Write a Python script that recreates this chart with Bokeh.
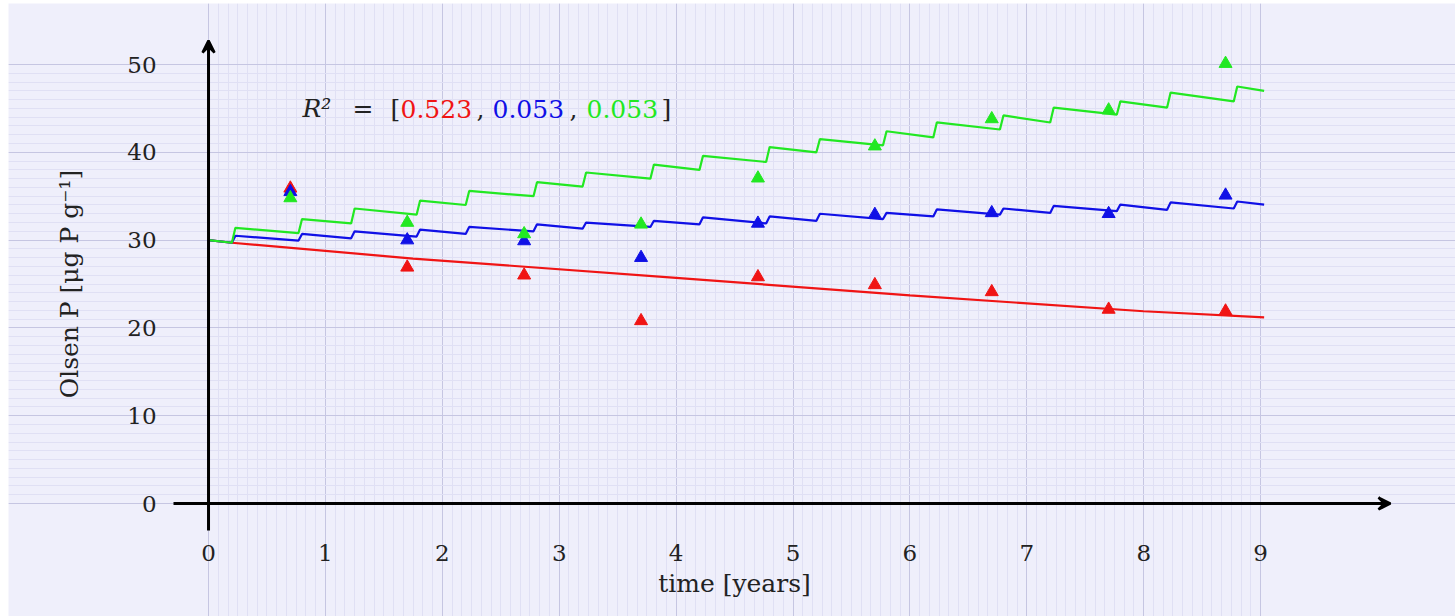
from bokeh.plotting import figure
from bokeh.models import (Range1d, SingleIntervalTicker, Arrow, VeeHead, Label)
from bokeh.embed import file_html
from bokeh.resources import INLINE

# ---------------- data ----------------
obs_t = [0.7, 1.7, 2.7, 3.7, 4.7, 5.7, 6.7, 7.7, 8.7]
red_obs = [35.9, 26.9, 26.0, 20.8, 25.8, 24.9, 24.1, 22.1, 21.9]
blue_obs = [35.5, 30.0, 29.9, 28.0, 31.9, 32.9, 33.1, 33.0, 35.1]
green_obs = [34.8, 32.0, 30.7, 31.8, 37.05, 40.7, 43.8, 44.8, 50.1]

# model: break points (fertiliser applications) and value at start / end of each segment
step_t = [0, 0.2, 0.77, 1.22, 1.78, 2.2, 2.78, 3.2, 3.78, 4.2, 4.77, 5.2, 5.77,
          6.2, 6.77, 7.2, 7.77, 8.2, 8.77, 9.03]
green_start = [30.0, 31.4, 32.4, 33.6, 34.5, 35.6, 36.6, 37.7, 38.6, 39.6, 40.6,
               41.5, 42.4, 43.4, 44.2, 45.1, 45.8, 46.8, 47.5]
green_end = [29.7, 30.8, 31.9, 32.9, 34.0, 35.0, 36.1, 37.0, 38.0, 38.9, 40.0,
             40.8, 41.7, 42.6, 43.4, 44.3, 45.1, 45.8, 47.0]
blue_start = [30.0, 30.5, 30.7, 31.0, 31.2, 31.5, 31.8, 32.0, 32.2, 32.6, 32.7,
              33.0, 33.1, 33.5, 33.6, 33.9, 34.05, 34.3, 34.4]
blue_end = [29.7, 29.95, 30.2, 30.4, 30.7, 31.0, 31.3, 31.5, 31.8, 31.9, 32.2,
            32.4, 32.7, 32.9, 33.1, 33.3, 33.45, 33.6, 34.05]
red_t = [0, 0.2, 1.75, 4.0, 6.0, 8.0, 9.03]
red_model = [30.0, 29.7, 27.9, 25.7, 23.7, 21.9, 21.2]

r2_values = [0.523, 0.053, 0.053]

x_label = "time [years]"
y_label = "Olsen P [μg P g⁻¹]"

# ---------------- styles ----------------
RED, BLUE, GREEN = "#f01414", "#1010e6", "#22e822"
INK = "#222222"
SERIF = "DejaVu Serif"
JUMP = 0.03  # slant of each jump in the drawn step line

W, H = 1455, 616
LEFT, TOP = 8, 3
X0, X1 = -1.711, 10.667
Y0, Y1 = -12.87, 56.95


def px2x(px):
    return X0 + (px - LEFT) / (W - LEFT) * (X1 - X0)


def py2y(py):
    return Y1 - (py - TOP) / (H - TOP) * (Y1 - Y0)


def step_path(t, starts, ends):
    xs, ys = [], []
    for i in range(len(starts)):
        xs += [t[i] + (JUMP if i else 0), t[i + 1]]
        ys += [starts[i], ends[i]]
    return xs, ys


p = figure(width=W, height=H, x_range=Range1d(X0, X1), y_range=Range1d(Y0, Y1),
           output_backend="svg", toolbar_location=None,
           min_border_left=LEFT, min_border_top=TOP, min_border_right=0, min_border_bottom=0)
p.background_fill_color = "#efeffb"
p.border_fill_color = "white"
p.outline_line_color = None

xt = SingleIntervalTicker(interval=1, num_minor_ticks=12)
yt = SingleIntervalTicker(interval=10, num_minor_ticks=10)
p.xaxis.ticker = xt
p.yaxis.ticker = yt
p.xgrid.ticker = xt
p.ygrid.ticker = yt
for g in (p.xgrid, p.ygrid):
    g.grid_line_color = "#c6c6e2"
    g.grid_line_width = 1
    g.minor_grid_line_color = "#e0e0f4"
    g.minor_grid_line_width = 1

for ax in (p.xaxis, p.yaxis):
    ax.fixed_location = 0
    ax.axis_line_color = None
    ax.major_tick_line_color = None
    ax.minor_tick_line_color = None
    ax.major_label_text_font = SERIF
    ax.major_label_text_font_size = "23px"
    ax.major_label_text_color = INK
    ax.axis_label_text_font = SERIF
    ax.axis_label_text_font_style = "normal"
    ax.axis_label_text_font_size = "25px"
    ax.axis_label_text_color = INK
p.xaxis.bounds = (0, 9)
p.yaxis.bounds = (0, 50)
p.xaxis.major_label_standoff = 35
p.yaxis.major_label_standoff = 46
p.xaxis.axis_label = x_label
p.yaxis.axis_label = y_label
p.xaxis.axis_label_standoff = 5
p.yaxis.axis_label_standoff = 40

# axes with arrow heads
p.add_layout(Arrow(end=VeeHead(size=12, line_width=2.5, line_color="black"),
                   x_start=px2x(173), y_start=0, x_end=px2x(1390), y_end=0,
                   line_width=3, line_color="black"))
p.add_layout(Arrow(end=VeeHead(size=12, line_width=2.5, line_color="black"),
                   x_start=0, y_start=py2y(530), x_end=0, y_end=py2y(40),
                   line_width=3, line_color="black"))

# model lines
p.line(red_t, red_model, line_color=RED, line_width=2.2)
bx, by = step_path(step_t, blue_start, blue_end)
p.line(bx, by, line_color=BLUE, line_width=2.2)
gx, gy = step_path(step_t, green_start, green_end)
p.line(gx, gy, line_color=GREEN, line_width=2.2)

# observations
for obs, col in ((red_obs, RED), (blue_obs, BLUE), (green_obs, GREEN)):
    p.scatter(obs_t, obs, marker="triangle", size=13, fill_color=col, line_color=col)

# R^2 annotation
ty = py2y(108)
pieces = [("R²", 302, INK, "italic"), ("=", 352, INK, "normal"),
          ("[", 390, INK, "normal"),
          ("%.3f" % r2_values[0], 400, RED, "normal"), (",", 476, INK, "normal"),
          ("%.3f" % r2_values[1], 492, BLUE, "normal"), (",", 569, INK, "normal"),
          ("%.3f" % r2_values[2], 586, GREEN, "normal"), ("]", 661, INK, "normal")]
for txt, px, col, style in pieces:
    p.add_layout(Label(x=px2x(px), y=ty, text=txt, text_color=col, text_font=SERIF,
                       text_font_size="25px", text_font_style=style,
                       text_align="left", text_baseline="middle"))

open("out.html", "w").write(file_html(p, INLINE))
